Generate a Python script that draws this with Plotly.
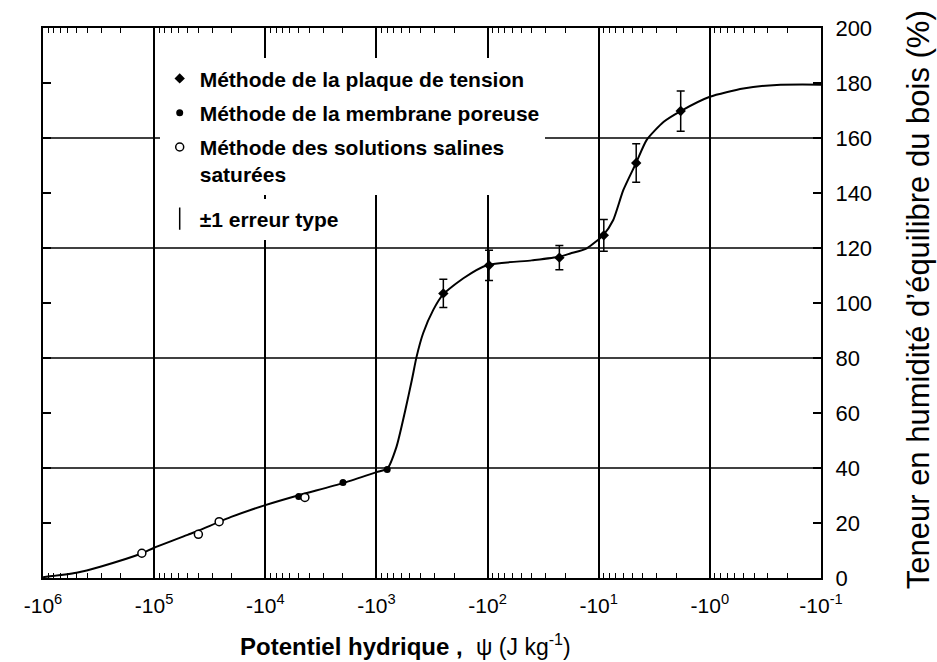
import plotly.graph_objects as go

FONT = "Liberation Sans, Arial, sans-serif"

# ---- fitted curve (|psi| in J/kg, equilibrium moisture content in %) ----
curve_psi = [1e6, 5e5, 3e5, 1.3e5, 1e5, 5e4, 4e4, 2e4, 1e4, 5e3, 2e3, 1e3, 800,
             660, 550, 480, 435, 380, 308, 250, 165, 100, 40, 22.6, 18, 12.8,
             9.1, 7.4, 6.0, 4.6, 3.7, 2.6, 1.83, 1.0, 0.5, 0.25, 0.1]
curve_w = [0.3, 1.9, 4.2, 8.9, 11.0, 15.7, 17.2, 22.3, 26.5, 30.1, 34.5, 38.5, 39.7,
           47.7, 61.0, 72.0, 80.5, 89.0, 97.5, 103.2, 109.0, 113.8, 115.5, 116.8, 118.0, 119.9,
           124.7, 130.2, 141.1, 151.0, 159.3, 165.9, 169.8, 175.0, 178.0, 179.3, 179.4]

# ---- measured points ----
plate_psi = [250, 97, 22.6, 9.0, 4.6, 1.83]
plate_w = [103.5, 113.7, 116.5, 124.6, 150.9, 169.8]
plate_err = [5.1, 5.5, 4.4, 5.8, 7.0, 7.3]

membrane_psi = [5.0e3, 2.0e3, 8.0e2]
membrane_w = [29.6, 34.7, 39.5]

saline_psi = [1.29e5, 4.0e4, 2.6e4, 4.4e3]
saline_w = [9.0, 15.9, 20.5, 29.3]

# ---- axis ticks ----
decade_exp = [6, 5, 4, 3, 2, 1, 0, -1]
decade_vals = [10.0 ** e for e in decade_exp]
decade_labels = ["-10<sup>%d</sup>" % e for e in decade_exp]
minor_vals = [k * 10.0 ** e for e in range(-1, 6) for k in range(2, 10)]
hgrid_vals = [40, 80, 120, 160]

fig = go.Figure()

fig.add_trace(go.Scatter(
    x=curve_psi, y=curve_w, mode="lines",
    line=dict(color="black", width=2, shape="spline", smoothing=0.6),
    showlegend=False, hoverinfo="skip"))

fig.add_trace(go.Scatter(
    x=plate_psi, y=plate_w, mode="markers",
    name="Méthode de la plaque de tension", legendgroup="a",
    marker=dict(symbol="diamond", size=8, color="black"),
    error_y=dict(type="data", array=plate_err, color="black", thickness=1.5, width=4)))

fig.add_trace(go.Scatter(
    x=membrane_psi, y=membrane_w, mode="markers",
    name="Méthode de la membrane poreuse", legendgroup="b",
    marker=dict(symbol="circle", size=7, color="black")))

fig.add_trace(go.Scatter(
    x=saline_psi, y=saline_w, mode="markers",
    name="Méthode des solutions salines<br>saturées", legendgroup="c",
    marker=dict(symbol="circle", size=8, color="white",
                line=dict(color="black", width=1.5))))

fig.add_trace(go.Scatter(
    x=[None], y=[None], mode="markers", name="±1 erreur type",
    legend="legend2",
    marker=dict(symbol="line-ns-open", size=18, color="black",
                line=dict(color="black", width=1.5))))

for v in hgrid_vals:
    fig.add_hline(y=v, line=dict(color="black", width=1.5), layer="below")

fig.update_xaxes(
    type="log", range=[6, -1],
    tickmode="array", tickvals=decade_vals, ticktext=decade_labels,
    ticks="inside", ticklen=9, tickwidth=1.5, tickcolor="black",
    showline=True, linewidth=2, linecolor="black", mirror="ticks",
    showgrid=True, gridcolor="black", gridwidth=1.5, zeroline=False,
    minor=dict(tickvals=minor_vals, ticks="inside", ticklen=5, tickwidth=1.2,
               tickcolor="black", showgrid=False),
    tickfont=dict(family=FONT, size=21, color="black"),
    ticklabelstandoff=8)

fig.update_yaxes(
    range=[0, 200], dtick=20, tick0=0, side="right",
    ticks="inside", ticklen=8, tickwidth=1.5, tickcolor="black",
    showline=True, linewidth=2, linecolor="black", mirror="ticks",
    showgrid=False, zeroline=False,
    tickfont=dict(family=FONT, size=22, color="black"),
    ticklabelstandoff=8)

fig.update_layout(
    width=937, height=662,
    margin=dict(l=43, r=116, t=28, b=84),
    paper_bgcolor="white", plot_bgcolor="white",
    font=dict(family=FONT, color="black"),
    legend=dict(x=0.150, y=0.945, xanchor="left", yanchor="top",
                bgcolor="white", borderwidth=0, tracegroupgap=4,
                traceorder="grouped", valign="top",
                font=dict(family=FONT, size=21, color="black", weight="bold")),
    legend2=dict(x=0.150, y=0.69, xanchor="left", yanchor="top",
                 bgcolor="white", borderwidth=0,
                 font=dict(family=FONT, size=21, color="black", weight="bold")),
    annotations=[
        dict(text="<b>Potentiel hydrique ,</b>  <span style='font-size:23px'>ψ (J kg<sup>-1</sup>)</span>",
             xref="paper", yref="paper", x=0.4665, y=-0.122,
             xanchor="center", yanchor="middle", showarrow=False,
             font=dict(family=FONT, size=24, color="black")),
        dict(text="Teneur en humidité d’équilibre du bois (%)",
             xref="paper", yref="paper", x=1.1247, y=0.505,
             xanchor="center", yanchor="middle", textangle=-90, showarrow=False,
             font=dict(family=FONT, size=31, color="black")),
    ],
)

fig.write_html("out.html")
